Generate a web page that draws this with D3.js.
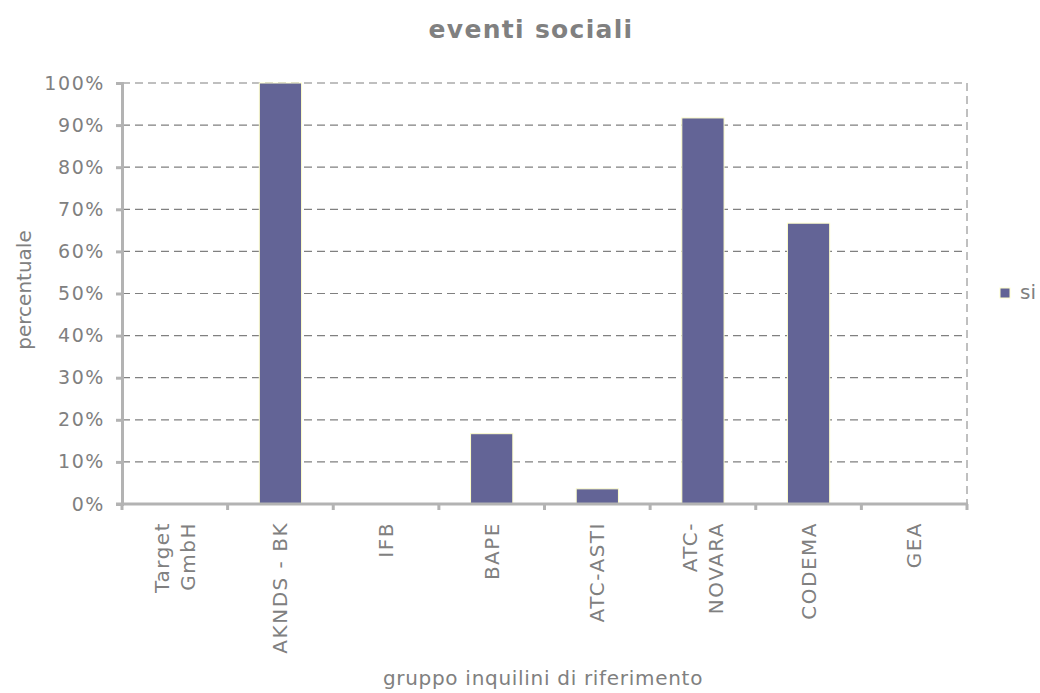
<!DOCTYPE html>
<html>
<head>
<meta charset="utf-8">
<script src="https://cdn.jsdelivr.net/npm/d3@7"></script>
<style>
  body { margin: 0; background: #fff; }
  text { font-family: "DejaVu Sans", Verdana, sans-serif; fill: #808080; }
</style>
</head>
<body>
<script>
// dati
const categories = ["Target GmbH", "AKNDS - BK", "IFB", "BAPE", "ATC-ASTI", "ATC-NOVARA", "CODEMA", "GEA"];
// etichette su più righe come nel grafico originale
const catLabels = [["Target", "GmbH"], ["AKNDS - BK"], ["IFB"], ["BAPE"], ["ATC-ASTI"], ["ATC-", "NOVARA"], ["CODEMA"], ["GEA"]];
const siValues = [0, 1.0, 0, 0.167, 0.036, 0.917, 0.667, 0];
const yTicks = [0, 0.1, 0.2, 0.3, 0.4, 0.5, 0.6, 0.7, 0.8, 0.9, 1.0];

const width = 1040, height = 693;
const margin = { top: 83, right: 73, bottom: 189, left: 122 };

const svg = d3.select("body").append("svg")
    .attr("width", width)
    .attr("height", height);

const x = d3.scaleBand()
    .domain(categories)
    .range([margin.left, width - margin.right])
    .paddingInner(0.6)
    .paddingOuter(0.3);

const xb = d3.scaleBand()
    .domain(categories)
    .range([margin.left, width - margin.right]);

const y = d3.scaleLinear()
    .domain([0, 1])
    .range([height - margin.bottom, margin.top]);

// griglia tratteggiata
svg.append("g")
    .selectAll("line")
    .data(yTicks.slice(1))
    .enter().append("line")
    .attr("x1", margin.left)
    .attr("x2", width - margin.right)
    .attr("y1", d => y(d))
    .attr("y2", d => y(d))
    .attr("stroke", "#808080")
    .attr("stroke-width", 1.2)
    .attr("stroke-dasharray", "8,5");

// bordo destro tratteggiato
svg.append("line")
    .attr("x1", width - margin.right)
    .attr("x2", width - margin.right)
    .attr("y1", margin.top)
    .attr("y2", height - margin.bottom)
    .attr("stroke", "#808080")
    .attr("stroke-width", 1)
    .attr("stroke-dasharray", "8,5");

// barre
svg.append("g")
    .selectAll("rect")
    .data(siValues)
    .enter().append("rect")
    .attr("x", (d, i) => x(categories[i]))
    .attr("y", d => y(d))
    .attr("width", x.bandwidth())
    .attr("height", d => y(0) - y(d))
    .attr("fill", "#636496")
    .attr("stroke", d => d > 0 ? "#ffffcc" : "none")
    .attr("stroke-width", 1);

// asse y
const yAxis = svg.append("g")
    .attr("transform", `translate(${margin.left},0)`)
    .call(d3.axisLeft(y).tickValues(yTicks).tickFormat(d3.format(".0%")).tickSize(6).tickPadding(11));
yAxis.select(".domain").attr("stroke", "#b3b3b3").attr("stroke-width", 3);
yAxis.selectAll(".tick line").attr("stroke", "#b3b3b3").attr("stroke-width", 3);
yAxis.selectAll(".tick text")
    .style("font-size", "19px")
    .style("letter-spacing", "1.6px")
    .attr("fill", "#808080");

// asse x
const xAxisG = svg.append("g")
    .attr("transform", `translate(0,${height - margin.bottom})`);
xAxisG.append("line")
    .attr("x1", margin.left - 6)
    .attr("x2", width - margin.right + 1)
    .attr("stroke", "#b3b3b3")
    .attr("stroke-width", 3);
const tickPos = categories.map(c => xb(c)).concat([width - margin.right]);
xAxisG.selectAll(".xt")
    .data(tickPos)
    .enter().append("line")
    .attr("class", "xt")
    .attr("x1", d => d).attr("x2", d => d)
    .attr("y1", 0).attr("y2", 6)
    .attr("stroke", "#b3b3b3")
    .attr("stroke-width", 3);

// etichette categorie ruotate
const lineH = 26;
const lab = xAxisG.selectAll(".xl")
    .data(catLabels)
    .enter().append("text")
    .attr("class", "xl")
    .attr("transform", (d, i) => {
        const cx = xb(categories[i]) + xb.bandwidth() / 2 - (d.length - 1) * lineH / 2 + 7;
        return `translate(${cx},18) rotate(-90)`;
    })
    .attr("text-anchor", "end")
    .style("font-size", "20px")
    .style("letter-spacing", "1.5px");
lab.selectAll("tspan")
    .data(d => d)
    .enter().append("tspan")
    .attr("x", 0)
    .attr("y", (d, i) => i * lineH)
    .text(d => d);

// titolo
svg.append("text")
    .attr("x", 531)
    .attr("y", 38)
    .attr("text-anchor", "middle")
    .style("font-size", "25px")
    .style("font-weight", "bold")
    .style("letter-spacing", "1.3px")
    .text("eventi sociali");

// titoli assi
svg.append("text")
    .attr("transform", "translate(31,290) rotate(-90)")
    .attr("text-anchor", "middle")
    .style("font-size", "20px")
    .text("percentuale");

svg.append("text")
    .attr("x", 543)
    .attr("y", 685)
    .attr("text-anchor", "middle")
    .style("font-size", "20px")
    .style("letter-spacing", "0.7px")
    .text("gruppo inquilini di riferimento");

// legenda
const legend = svg.append("g").attr("transform", "translate(1000,288)");
legend.append("rect")
    .attr("width", 10).attr("height", 10)
    .attr("fill", "#636496")
    .attr("stroke", "#ffffcc");
legend.append("text")
    .attr("x", 20)
    .attr("y", 11)
    .style("font-size", "20px")
    .text("si");
</script>
</body>
</html>
